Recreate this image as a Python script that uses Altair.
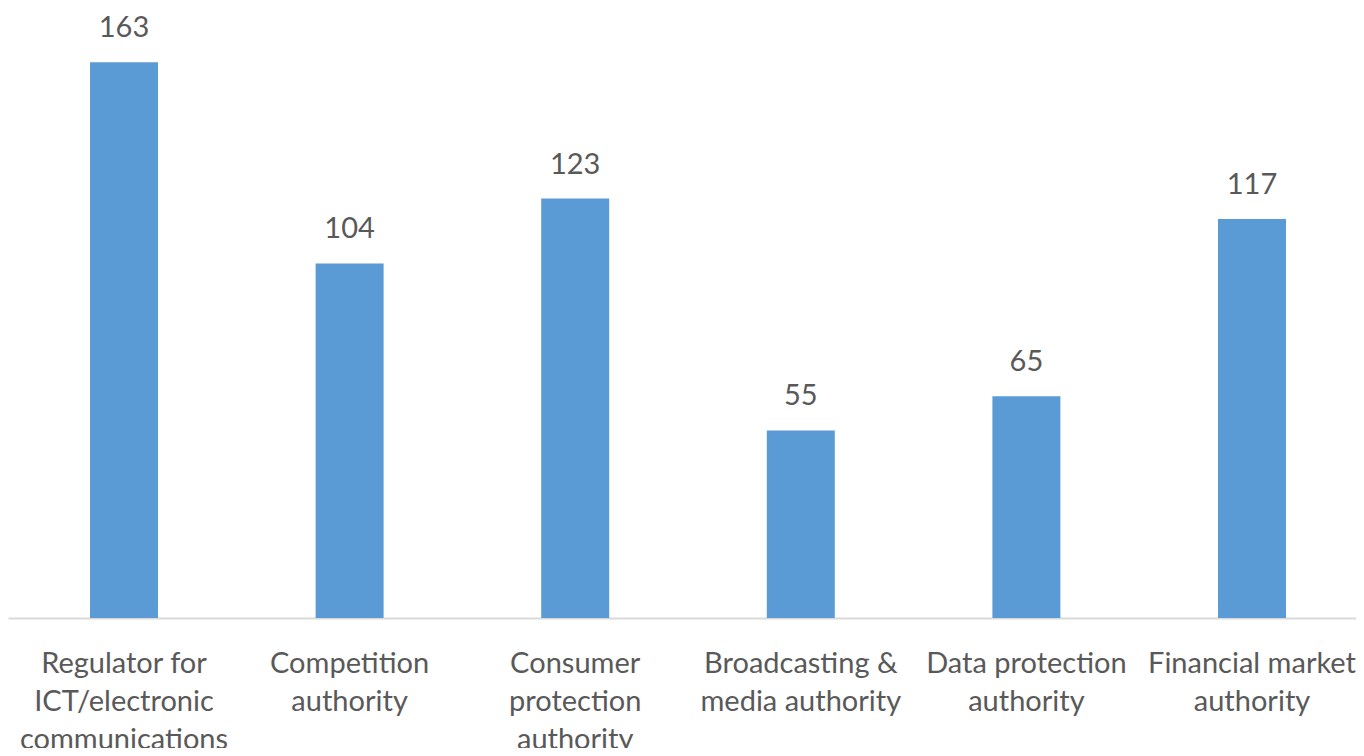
import altair as alt
import pandas as pd

categories = [
    "Regulator for\nICT/electronic\ncommunications",
    "Competition\nauthority",
    "Consumer\nprotection\nauthority",
    "Broadcasting &\nmedia authority",
    "Data protection\nauthority",
    "Financial market\nauthority",
]
values = [163, 104, 123, 55, 65, 117]

df = pd.DataFrame({"category": categories, "value": values})

FONT = "Lato"
TXT = "#595959"

x = alt.X(
    "category:N",
    sort=categories,
    title=None,
    scale=alt.Scale(range=[0, 1360], paddingInner=0.6986, paddingOuter=0.3635),
    axis=alt.Axis(
        labelAngle=0,
        labelExpr="split(datum.value, '\\n')",
        labelFont=FONT,
        labelFontSize=29,
        labelColor=TXT,
        labelLineHeight=38,
        labelPadding=31,
        labelLimit=0,
        labelOverlap=False,
        labelBound=False,
        ticks=False,
        domainColor="#D9D9D9",
        domainWidth=2,
        grid=False,
    ),
)
y = alt.Y("value:Q", scale=alt.Scale(domain=[0, 178.9], nice=False), axis=None)

bars = alt.Chart(df).mark_bar(color="#5B9BD5", size=68).encode(x=x, y=y)
labels = alt.Chart(df).mark_text(
    dy=-25, baseline="alphabetic", font=FONT, fontSize=29, color=TXT
).encode(x=x, y=y, text="value:Q")

chart = (
    alt.layer(bars, labels)
    .properties(
        width=1348,
        height=610,
        padding={"left": 0, "top": 0, "right": 0, "bottom": 130},
        autosize=alt.AutoSizeParams(type="none"),
    )
    .configure_view(stroke=None)
)

chart.save("out.html", embed_options={"renderer": "svg", "actions": False})
